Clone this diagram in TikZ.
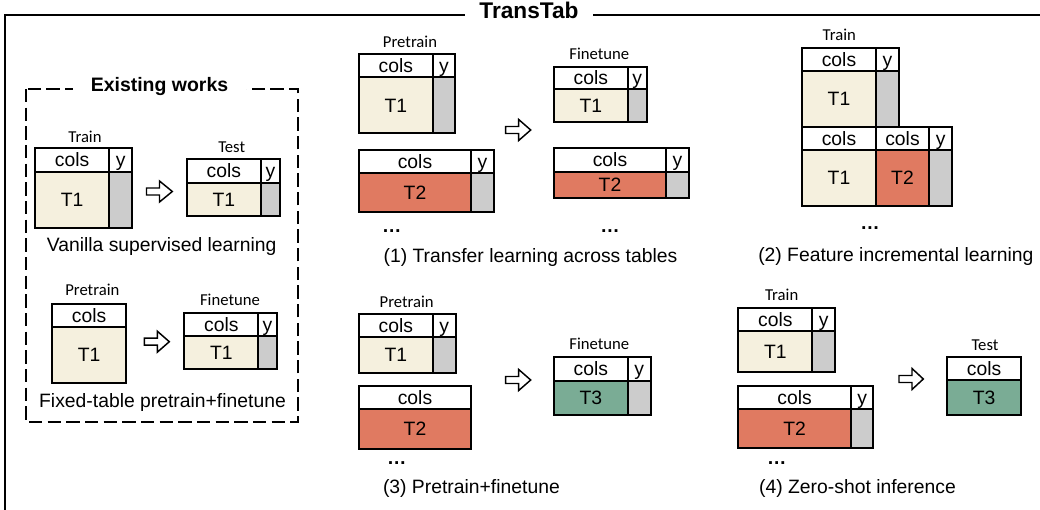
\documentclass[tikz,border=0pt]{standalone}
\usepackage{fontspec}
\setmainfont{Liberation Sans}
\newfontfamily\lblfont{Carlito}
\definecolor{beige}{RGB}{245,240,222}
\definecolor{ygray}{RGB}{204,204,204}
\definecolor{salmon}{RGB}{224,122,97}
\definecolor{sage}{RGB}{122,172,149}
\newcommand\mainsz{\fontsize{14.5}{17}\selectfont}
\tikzset{
  tb/.style={line width=1.5pt, line cap=rect, line join=miter},
  celltext/.style={font=\mainsz, inner sep=0pt, text height=10.4pt, text depth=0pt},
  lbl/.style={font=\lblfont\fontsize{12.5}{15}\selectfont, inner sep=0pt, text height=8pt, text depth=0pt},
  caption/.style={font=\mainsz, inner sep=0pt, text height=10.4pt, text depth=0pt},
  dots/.style={font=\mainsz\bfseries, inner sep=0pt, anchor=base},
  barrow/.style={draw=black, line width=1.1pt, fill=white, line join=miter},
}
% table with y column: name, L, T, H, B, D, R, fill, label
\newcommand\tabY[9]{%
  \fill[#8] (#2,#4) rectangle (#6,#5);
  \fill[ygray] (#6,#4) rectangle (#7,#5);
  \draw[tb] (#2,#3) rectangle (#7,#5);
  \draw[tb] (#2,#4) -- (#7,#4);
  \draw[tb] (#6,#3) -- (#6,#5);
  \node[celltext] (#1c) at ({(#2+#6)/2},{(#3+#4)/2}) {cols};
  \node[celltext] (#1y) at ({(#6+#7)/2},{(#3+#4)/2}) {y};
  \node[celltext] (#1t) at ({(#2+#6)/2},{(#4+#5)/2}) {#9};
}
% table without y column: name, L, T, H, B, R, fill, label
\newcommand\tabN[8]{%
  \fill[#7] (#2,#4) rectangle (#6,#5);
  \draw[tb] (#2,#3) rectangle (#6,#5);
  \draw[tb] (#2,#4) -- (#6,#4);
  \node[celltext] (#1c) at ({(#2+#6)/2},{(#3+#4)/2}) {cols};
  \node[celltext] (#1t) at ({(#2+#6)/2},{(#4+#5)/2}) {#8};
}
% hollow block arrow: x0, x1, y
\newcommand\blockarrow[3]{%
  \draw[barrow] (#1,#3-3.5) -- (#1+13,#3-3.5) -- (#1+13,#3-10.5) -- (#2,#3)
    -- (#1+13,#3+10.5) -- (#1+13,#3+3.5) -- (#1,#3+3.5) -- cycle;
}
\begin{document}
\begin{tikzpicture}[x=0.75pt,y=-0.75pt]
\useasboundingbox (0,0) rectangle (1040,510);
% outer frame
\draw[line width=1.6pt] (5,515) -- (5,15) -- (1045,15);
\node[fill=white, font=\bfseries\fontsize{17}{20}\selectfont, inner xsep=11pt, inner ysep=2pt, text height=12.2pt, text depth=0pt] (title) at (529,10) {TransTab};

% existing works dashed box
\draw[line width=1.5pt, dash pattern=on 10pt off 4pt] (25.7,89) rectangle (298,421.7);
\node[fill=white, font=\bfseries\fontsize{14.6}{17}\selectfont, inner xsep=13pt, inner ysep=2pt, text height=10.5pt, text depth=0pt] (exist) at (159.5,85) {Existing works};

% vanilla supervised learning
\node[lbl] (vtrain) at (85,137) {Train};
\tabY{va}{35}{148.3}{171.7}{227.7}{109.3}{132.3}{beige}{T1}
\blockarrow{146.5}{172.3}{191.5}
\node[lbl] (vtest) at (231.7,146.7) {Test};
\tabY{vb}{186.7}{159.3}{182.7}{215.7}{261}{280}{beige}{T1}
\node[caption] (capv) at (161.7,245) {Vanilla supervised learning};

% fixed-table pretrain+finetune
\node[lbl] (fpre) at (92.3,290) {Pretrain};
\tabN{fa}{52.3}{304}{326.7}{383.3}{126}{beige}{T1}
\blockarrow{144.3}{169.3}{341.7}
\node[lbl] (ffine) at (230,300) {Finetune};
\tabY{fb}{184.3}{312.7}{336}{369}{258.3}{276.7}{beige}{T1}
\node[caption] (capf) at (162.5,400.5) {Fixed-table pretrain+finetune};

% (1) transfer learning across tables
\node[lbl] (tpre) at (410,41.7) {Pretrain};
\tabY{ta}{359}{54.3}{77.3}{133.3}{432.7}{455}{beige}{T1}
\tabY{tb}{359}{150}{172.7}{212.3}{471}{494}{salmon}{T2}
\node[dots] (tdots1) at (391.7,232) {…};
\blockarrow{505.7}{530.7}{130}
\node[lbl] (tfine) at (599.3,54.3) {Finetune};
\tabY{tc}{554}{66.7}{89.3}{121.7}{627.7}{646.7}{beige}{T1}
\tabY{td}{554}{148.3}{171.7}{197.7}{666}{689}{salmon}{T2}
\node[dots] (tdots2) at (610,232) {…};
\node[caption] (cap1) at (530.5,256) {(1) Transfer learning across tables};

% (2) feature incremental learning
\node[lbl] (itrain) at (839.3,35) {Train};
\tabY{ia}{802.3}{48.3}{70.7}{127.3}{875.7}{899}{beige}{T1}
\fill[beige] (802.3,150) rectangle (875.7,205.7);
\fill[salmon] (875.7,150) rectangle (929.3,205.7);
\fill[ygray] (929.3,150) rectangle (952.3,205.7);
\draw[tb] (802.3,127.3) rectangle (952.3,205.7);
\draw[tb] (802.3,150) -- (952.3,150);
\draw[tb] (875.7,127.3) -- (875.7,205.7);
\draw[tb] (929.3,127.3) -- (929.3,205.7);
\node[celltext] (ibc1) at (839,138.65) {cols};
\node[celltext] (ibc2) at (902.5,138.65) {cols};
\node[celltext] (iby) at (940.8,138.65) {y};
\node[celltext] (ibt1) at (839,177.85) {T1};
\node[celltext] (ibt2) at (902.5,177.85) {T2};
\node[dots] (idots) at (870,229) {…};
\node[caption] (cap2) at (895.8,254.5) {(2) Feature incremental learning};

% (3) pretrain+finetune
\node[lbl] (ppre) at (406.7,301.7) {Pretrain};
\tabY{pa}{359}{314}{337.3}{372.7}{432.7}{455.7}{beige}{T1}
\tabN{pb}{359}{386}{409}{449}{471}{salmon}{T2}
\node[dots] (pdots) at (396.7,464) {…};
\blockarrow{505.7}{530.7}{380}
\node[lbl] (pfine) at (599.3,344) {Finetune};
\tabY{pc}{554}{357.3}{380.7}{415}{627.7}{650.7}{sage}{T3}
\node[caption] (cap3) at (471.4,487) {(3) Pretrain+finetune};

% (4) zero-shot inference
\node[lbl] (ztrain) at (781.7,295) {Train};
\tabY{za}{738.3}{307.7}{330.7}{372.3}{812.3}{835}{beige}{T1}
\tabY{zb}{738.3}{386}{409}{448.3}{851}{873.3}{salmon}{T2}
\node[dots] (zdots) at (776.7,464) {…};
\blockarrow{899}{923.3}{379}
\node[lbl] (ztest) at (985,345) {Test};
\tabN{zc}{947.3}{357.3}{380}{415}{1021}{sage}{T3}
\node[caption] (cap4) at (857.5,487) {(4) Zero-shot inference};
\end{tikzpicture}
\end{document}
